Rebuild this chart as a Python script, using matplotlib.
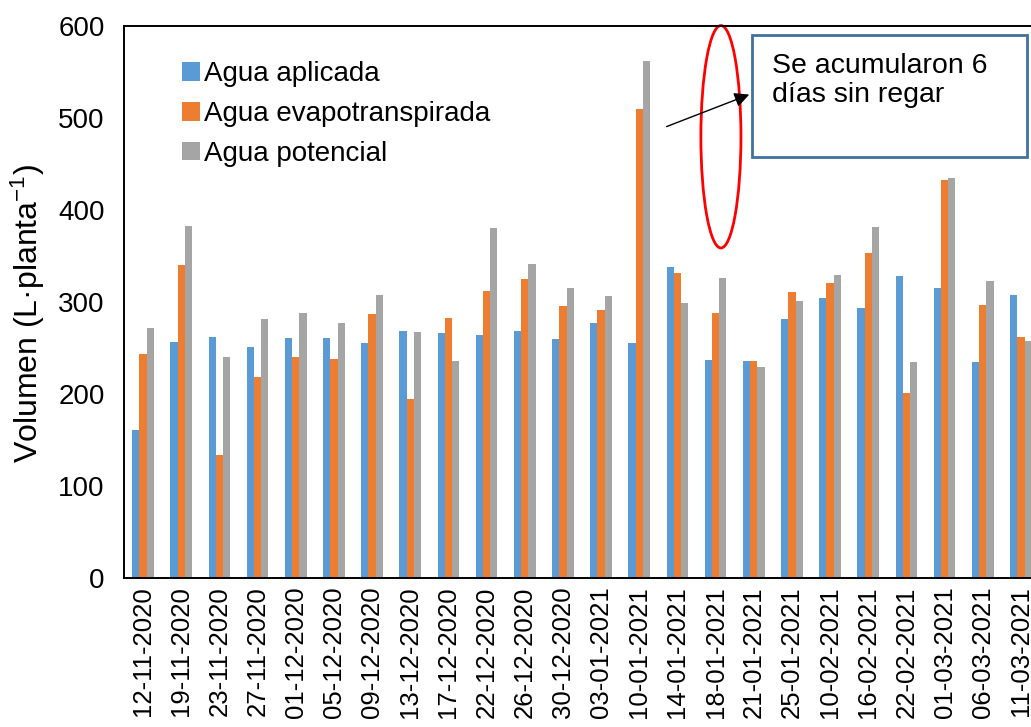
import matplotlib
matplotlib.use("Agg")
import numpy as np
import matplotlib.pyplot as plt
from matplotlib.patches import Ellipse, Rectangle

plt.rcParams['font.family'] = ['Liberation Sans', 'DejaVu Sans']
plt.rcParams['mathtext.fontset'] = 'custom'
plt.rcParams['mathtext.rm'] = 'Liberation Sans'
plt.rcParams['mathtext.it'] = 'Liberation Sans'

fechas = ['12-11-2020', '19-11-2020', '23-11-2020', '27-11-2020', '01-12-2020',
          '05-12-2020', '09-12-2020', '13-12-2020', '17-12-2020', '22-12-2020',
          '26-12-2020', '30-12-2020', '03-01-2021', '10-01-2021', '14-01-2021',
          '18-01-2021', '21-01-2021', '25-01-2021', '10-02-2021', '16-02-2021',
          '22-02-2021', '01-03-2021', '06-03-2021', '11-03-2021']
aplicada = [161, 257, 262, 251, 261, 261, 256, 269, 266, 264, 269, 260,
            277, 256, 338, 237, 236, 282, 305, 294, 328, 315, 235, 308]
evapo = [244, 340, 134, 219, 240, 238, 287, 195, 283, 312, 325, 296,
         291, 510, 332, 288, 236, 311, 321, 354, 201, 433, 297, 262]
potencial = [272, 383, 240, 282, 288, 277, 308, 268, 236, 381, 342, 316,
             307, 562, 299, 326, 230, 301, 330, 382, 235, 435, 323, 258]

fig = plt.figure(figsize=(10.31, 7.27), dpi=100)
ax = fig.add_axes([0.1203, 0.205, 0.8884, 0.7586])

x = np.arange(len(fechas))
w = 0.19
ax.bar(x - w, aplicada, w, color='#5B9BD5', label='Agua aplicada')
ax.bar(x, evapo, w, color='#ED7D31', label='Agua evapotranspirada')
ax.bar(x + w, potencial, w, color='#A5A5A5', label='Agua potencial')

ax.set_xlim(-0.5, len(fechas) - 0.5)
ax.set_ylim(0, 600)
ax.set_yticks(range(0, 601, 100))
ax.set_xticks(x)
ax.set_xticklabels(fechas, rotation=90, fontsize=18.5)
ax.tick_params(axis='y', length=0, pad=14, labelsize=20)
ax.tick_params(axis='x', length=0, pad=6)
for s in ax.spines.values():
    s.set_linewidth(1.4)

ax.set_ylabel('Volumen (L·planta$^{-1}$)', fontsize=23)
ax.yaxis.set_label_coords(-0.084, 0.48)

ax.legend(loc='upper left', bbox_to_anchor=(0.063, 0.937), frameon=False,
          fontsize=20, handlelength=0.65, handleheight=0.65,
          handletextpad=0.15, labelspacing=0.5, borderaxespad=0, borderpad=0)

# anotacion
ax.add_patch(Ellipse((15.14, 480), 1.05, 242, fill=False, edgecolor='red',
                     linewidth=2, clip_on=False))
ax.add_patch(Rectangle((15.95, 458), 7.2, 133, fill=False, edgecolor='#41719C',
                       linewidth=2, clip_on=False, zorder=4))
ax.text(16.47, 571, 'Se acumularon 6\ndías sin regar', fontsize=20.5,
        va='top', ha='left', linespacing=1.15)
ax.annotate('', xy=(15.95, 527), xytext=(13.65, 490),
            arrowprops=dict(arrowstyle='-|>', color='black', lw=1,
                            mutation_scale=22))

fig.savefig('out.png', dpi=100)
